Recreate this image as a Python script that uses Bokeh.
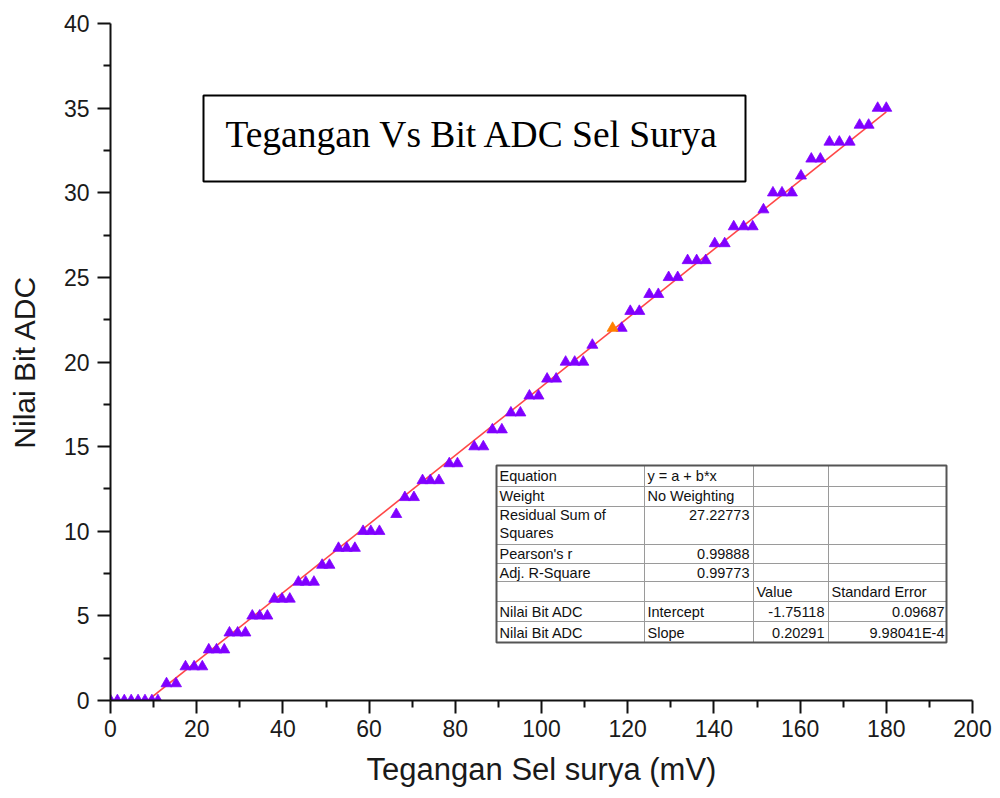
from bokeh.plotting import figure
from bokeh.models import Range1d, FixedTicker
from bokeh.embed import file_html
from bokeh.resources import INLINE
from bokeh.core.properties import value

# ---------------- data ----------------
voltage = [0.0, 1.6, 3.2, 4.8, 6.4, 8.0, 9.6, 11.0,
           13.0, 15.2,
           17.4, 19.4, 21.3,
           22.8, 24.6, 26.4,
           27.6, 29.5, 31.3,
           32.9, 34.6, 36.4,
           38.0, 39.8, 41.6,
           43.6, 45.3, 47.2,
           49.1, 50.8,
           52.9, 54.8, 56.7,
           58.6, 60.4, 62.4,
           66.3,
           68.3, 70.4,
           72.4, 74.2, 76.2,
           78.6, 80.5,
           84.4, 86.5,
           88.6, 90.8,
           92.9, 95.1,
           97.2, 99.3,
           101.3, 103.4,
           105.6, 107.7, 109.7,
           111.8,
           118.6,
           120.6, 122.7,
           125.0, 127.1,
           129.5, 131.6,
           133.9, 136.0, 138.1,
           140.2, 142.5,
           144.6, 146.9, 149.0,
           151.5,
           153.7, 155.8, 158.1,
           160.2,
           162.6, 164.7,
           166.8, 169.1, 171.5,
           173.8, 175.9,
           178.0, 180.0]
adc = [0, 0, 0, 0, 0, 0, 0, 0,
       1, 1,
       2, 2, 2,
       3, 3, 3,
       4, 4, 4,
       5, 5, 5,
       6, 6, 6,
       7, 7, 7,
       8, 8,
       9, 9, 9,
       10, 10, 10,
       11,
       12, 12,
       13, 13, 13,
       14, 14,
       15, 15,
       16, 16,
       17, 17,
       18, 18,
       19, 19,
       20, 20, 20,
       21,
       22,
       23, 23,
       24, 24,
       25, 25,
       26, 26, 26,
       27, 27,
       28, 28, 28,
       29,
       30, 30, 30,
       31,
       32, 32,
       33, 33, 33,
       34, 34,
       35, 35]
highlight_voltage = [116.5]
highlight_adc = [22]

fit_intercept = -1.75118
fit_slope = 0.20291
fit_intercept_err = 0.09687
fit_slope_err = 9.98041e-4
fit_rss = 27.22773
fit_pearson_r = 0.99888
fit_adj_r2 = 0.99773

title_text = "Tegangan Vs Bit ADC Sel Surya"
x_label = "Tegangan Sel surya (mV)"
y_label = "Nilai Bit ADC"
x_ticks = [0, 20, 40, 60, 80, 100, 120, 140, 160, 180, 200]
y_ticks = [0, 5, 10, 15, 20, 25, 30, 35, 40]

# ---------------- layout ----------------
W, H = 1000, 798
ML, MR, MT, MB = 110, 28, 23, 98
X0, X1, Y0, Y1 = x_ticks[0], x_ticks[-1], y_ticks[0], y_ticks[-1]
FW, FH = W - ML - MR, H - MT - MB


def dx(px):
    return X0 + (px - ML) / FW * (X1 - X0)


def dy(py):
    return Y0 + (H - MB - py) / FH * (Y1 - Y0)


p = figure(width=W, height=H, title=None,
           x_range=Range1d(X0, X1), y_range=Range1d(Y0, Y1),
           output_backend="svg", toolbar_location=None,
           min_border_left=ML, min_border_right=MR,
           min_border_top=MT, min_border_bottom=MB)
p.outline_line_color = None
p.xgrid.visible = False
p.ygrid.visible = False
p.background_fill_color = "white"
p.border_fill_color = "white"

x_minor = [(a + b) / 2 for a, b in zip(x_ticks[:-1], x_ticks[1:])]
y_minor = [(a + b) / 2 for a, b in zip(y_ticks[:-1], y_ticks[1:])]
p.xaxis.ticker = FixedTicker(ticks=x_ticks, minor_ticks=x_minor)
p.yaxis.ticker = FixedTicker(ticks=y_ticks, minor_ticks=y_minor)

for ax in (p.xaxis, p.yaxis):
    ax.axis_line_width = 2
    ax.axis_line_color = "#111111"
    ax.major_tick_line_width = 2
    ax.minor_tick_line_width = 2
    ax.major_tick_line_color = "#111111"
    ax.minor_tick_line_color = "#111111"
    ax.major_tick_out = 13
    ax.major_tick_in = 0
    ax.minor_tick_out = 7
    ax.minor_tick_in = 0
    ax.major_label_text_font = "Liberation Sans"
    ax.major_label_text_font_size = "23px"
    ax.major_label_text_color = "#1a1a1a"
    ax.axis_label_text_font = "Liberation Sans"
    ax.axis_label_text_font_style = "normal"
    ax.axis_label_text_color = "#1a1a1a"

p.xaxis.axis_label = x_label
p.yaxis.axis_label = y_label
p.xaxis.axis_label_text_font_size = "31px"
p.yaxis.axis_label_text_font_size = "30px"
p.xaxis.major_label_standoff = 6
p.xaxis.axis_label_standoff = 12
p.yaxis.major_label_standoff = 8
p.yaxis.axis_label_standoff = 20

# ---------------- fitted line ----------------
fx0 = -fit_intercept / fit_slope
fx1 = max(voltage)
p.line([fx0, fx1], [fit_intercept + fit_slope * fx0, fit_intercept + fit_slope * fx1],
       line_color="#ff3333", line_width=1.6, line_alpha=0.9)

# ---------------- points ----------------
p.scatter(voltage, adc, marker="triangle", size=11,
          fill_color="#8000ff", line_color="#8000ff", line_width=0.8)
p.scatter(highlight_voltage, highlight_adc, marker="triangle", size=11,
          fill_color="#ff8000", line_color="#ff8000", line_width=0.8)

# ---------------- title box ----------------
p.quad(left=[dx(203)], right=[dx(745)], bottom=[dy(181)], top=[dy(95)],
       fill_color="white", line_color="black", line_width=2)
p.text(x=[dx(472)], y=[dy(134)], text=[title_text],
       text_font=value("Liberation Serif"), text_font_size="37.5px",
       text_align="center", text_baseline="middle", text_color="black")

# ---------------- fit table ----------------
col_px = [496, 644, 753, 828, 946]
row_px = [465, 486, 506, 544, 563, 581, 601, 621, 642]
seg_x0, seg_y0, seg_x1, seg_y1 = [], [], [], []
for r in row_px[1:-1]:
    seg_x0.append(dx(col_px[0])); seg_x1.append(dx(col_px[-1]))
    seg_y0.append(dy(r)); seg_y1.append(dy(r))
for c in col_px[1:-1]:
    seg_x0.append(dx(c)); seg_x1.append(dx(c))
    seg_y0.append(dy(row_px[0])); seg_y1.append(dy(row_px[-1]))
p.segment(seg_x0, seg_y0, seg_x1, seg_y1, line_color="#9a9a9a", line_width=1)
p.quad(left=[dx(col_px[0])], right=[dx(col_px[-1])],
       bottom=[dy(row_px[-1])], top=[dy(row_px[0])],
       fill_color=None, line_color="#555555", line_width=2)

slope_err_txt = "{:.5E}".format(fit_slope_err).replace("E-0", "E-")
left_cells = [
    (499, 475, "Equation"), (647, 475, "y = a + b*x"),
    (499, 495, "Weight"), (647, 495, "No Weighting"),
    (499, 514, "Residual Sum of"), (499, 532, "Squares"),
    (499, 553, "Pearson's r"),
    (499, 572, "Adj. R-Square"),
    (756, 591, "Value"), (831, 591, "Standard Error"),
    (499, 611, y_label), (647, 611, "Intercept"),
    (499, 632, y_label), (647, 632, "Slope"),
]
right_cells = [
    (749, 514, "{:.5f}".format(fit_rss)),
    (749, 553, "{:.5f}".format(fit_pearson_r)),
    (749, 572, "{:.5f}".format(fit_adj_r2)),
    (824, 611, "{:.5f}".format(fit_intercept)),
    (944, 611, "{:.5f}".format(fit_intercept_err)),
    (824, 632, "{:.5f}".format(fit_slope)),
    (944, 632, slope_err_txt),
]
p.text(x=[dx(c[0]) for c in left_cells], y=[dy(c[1]) for c in left_cells],
       text=[c[2] for c in left_cells], text_font=value("Liberation Sans"),
       text_font_size="14.5px", text_align="left", text_baseline="middle",
       text_color="#111111")
p.text(x=[dx(c[0]) for c in right_cells], y=[dy(c[1]) for c in right_cells],
       text=[c[2] for c in right_cells], text_font=value("Liberation Sans"),
       text_font_size="14.5px", text_align="right", text_baseline="middle",
       text_color="#111111")

open("out.html", "w").write(file_html(p, INLINE))
